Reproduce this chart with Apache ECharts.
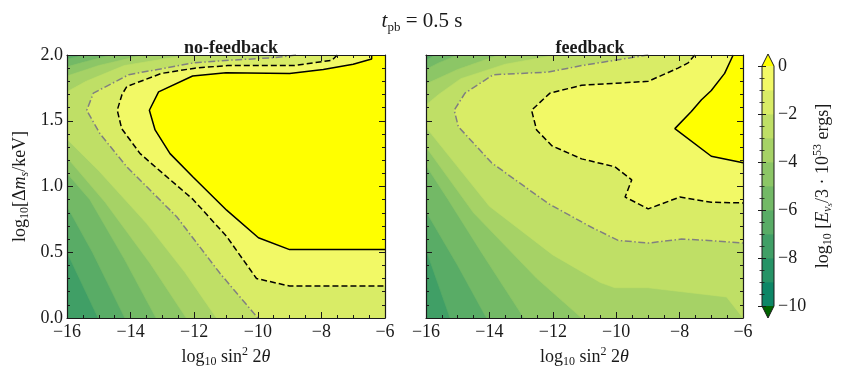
<!DOCTYPE html>
<html><head><meta charset="utf-8">
<script src="https://cdn.jsdelivr.net/npm/echarts@6/dist/echarts.min.js"></script>
<style>html,body{margin:0;padding:0;background:#fff}#c{width:844px;height:375px}</style>
</head><body><div id="c"></div>
<script>
// ---------- data ----------
const xRange = [-16, -6];
const yRange = [0, 2];
const cbRange = [-10, 0];
// contour levels (log10 E) whose iso-curves are given below
const levels = [-7, -6, -5, -4, -3, -2, -1, 0];
// colour of band [k, k+1] for k = -10 .. -1, then "over" (>0)
const bandLows = [-10, -9, -8, -7, -6, -5, -4, -3, -2, -1];
const bandColors = ['#0d8666', '#269366', '#409f66', '#59ac66', '#73b966', '#8cc666', '#a6d266', '#bfdf66', '#d9ec66', '#f2f966'];
const overColor = '#ffff00';
const underColor = '#006400';

// ---- panel "no-feedback": iso-curves [log10 sin^2 2theta, log10 dm] ----
const nfL0 = [[-6.42,2.0],[-6.42,1.97],[-7.0,1.93],[-7.94,1.89],[-9.0,1.86],[-11.0,1.865],[-12.05,1.84],[-13.12,1.72],[-13.41,1.58],[-13.23,1.43],[-12.76,1.25],[-12.03,1.07],[-10.98,0.82],[-9.98,0.61],[-9.0,0.52],[-6.0,0.52]];
const nfL1 = [[-7.5,2.0],[-7.67,1.96],[-8.85,1.92],[-10.95,1.92],[-11.98,1.90],[-13.03,1.86],[-14.12,1.76],[-14.27,1.70],[-14.42,1.58],[-14.28,1.44],[-13.70,1.25],[-13.18,1.14],[-12.03,0.90],[-10.98,0.62],[-10.04,0.30],[-9.0,0.243],[-6.0,0.243]];
const nfL2 = [[-8.8,2.0],[-9.45,1.98],[-10.92,1.96],[-12.02,1.94],[-14.06,1.85],[-15.17,1.71],[-15.38,1.58],[-14.96,1.40],[-14.12,1.15],[-12.55,0.77],[-11.19,0.34],[-10.0,0.0]];
const nfL3 = [[-12.2,2.0],[-14.2,1.92],[-15.4,1.80],[-16,1.72],[-16,1.36],[-15.0,1.12],[-13.5,0.72],[-12.3,0.35],[-11.3,0]];
const nfL4 = [[-13.6,2.0],[-15.0,1.92],[-16,1.84],[-16,1.22],[-14.8,0.88],[-13.4,0.42],[-12.25,0]];
const nfL5 = [[-14.6,2.0],[-15.4,1.95],[-16,1.91],[-16,1.1],[-15.28,0.90],[-14.2,0.45],[-13.2,0]];
const nfL6 = [[-15.4,2.0],[-16,1.97],[-16,0.85],[-15.2,0.5],[-14.18,0]];
const nfL7 = [[-16,0.5],[-15.02,0]];

// ---- panel "feedback" ----
const fbL0 = [[-6.31,2.0],[-6.58,1.86],[-7.0,1.73],[-7.31,1.66],[-7.63,1.57],[-8.15,1.44],[-7.0,1.23],[-6.0,1.18]];
const fbL1 = [[-7.52,2.0],[-7.73,1.94],[-8.05,1.90],[-8.99,1.80],[-10.04,1.785],[-11.09,1.77],[-12.09,1.71],[-12.67,1.58],[-12.51,1.43],[-12.03,1.31],[-11.09,1.21],[-10.04,1.15],[-9.51,1.05],[-9.72,0.92],[-8.99,0.83],[-7.99,0.92],[-7.0,0.88],[-6.0,0.875]];
const fbL2 = [[-8.99,2.0],[-10.04,1.96],[-11.09,1.92],[-12.14,1.87],[-13.88,1.85],[-14.77,1.71],[-15.11,1.58],[-14.98,1.455],[-13.93,1.18],[-12.14,0.87],[-10.78,0.69],[-9.94,0.59],[-8.99,0.57],[-7.94,0.60],[-7.1,0.59],[-6.0,0.57]];
const fbL3 = [[-11.9,2.0],[-13.5,1.93],[-14.9,1.82],[-15.6,1.70],[-16,1.62],[-16,1.45],[-14.0,0.85],[-12.0,0.48],[-10.5,0.27],[-10.04,0.23],[-8.99,0.23],[-6.52,0.16],[-6.0,0.0]];
const fbL4 = [[-13.7,2.0],[-15.0,1.89],[-16,1.78],[-16,1.30],[-14.5,0.80],[-12.5,0.30],[-11.09,0]];
const fbL5 = [[-15.0,2.0],[-15.6,1.94],[-16,1.89],[-16,1.16],[-15.3,0.90],[-14.2,0.48],[-12.91,0]];
const fbL6 = [[-15.7,2.0],[-16,1.96],[-16,0.81],[-15.0,0.40],[-14.09,0]];
const fbL7 = [[-16,0.52],[-15.24,0]];

// panel corners that close each region {value >= level} (data coordinates)
const TR = [-6, 2], BR = [-6, 0], TL = [-16, 2], BL = [-16, 0];
const nfClose = [[BR, TR, TL], [BR, TR], [BR, TR], [BR, TR], [BR, TR], [BR, TR], [TR], [TR]];
const fbClose = [[BR, TR, TL], [BR, TR], [BR, TR], [BR, TR], [TR], [TR], [TR], [TR]];
const nfCurves = [nfL7, nfL6, nfL5, nfL4, nfL3, nfL2, nfL1, nfL0];
const fbCurves = [fbL7, fbL6, fbL5, fbL4, fbL3, fbL2, fbL1, fbL0];

// ---------- chart ----------
const FONT = 'Liberation Serif';
const INK = '#1a1a1a';
function levelColor(lv) { // colour of region just above level lv
  if (lv >= 0) return overColor;
  return bandColors[bandLows.indexOf(lv)];
}
const rich = {
  t: {fontFamily: FONT, fontSize: 18, fontWeight: 'normal', color: INK, lineHeight: 22},
  i: {fontFamily: FONT, fontSize: 18, fontWeight: 'normal', fontStyle: 'italic', color: INK, lineHeight: 22},
  s: {fontFamily: FONT, fontSize: 12, fontWeight: 'normal', color: INK, verticalAlign: 'bottom', lineHeight: 14},
  si: {fontFamily: FONT, fontSize: 12, fontWeight: 'normal', fontStyle: 'italic', color: INK, verticalAlign: 'bottom', lineHeight: 14},
  ss: {fontFamily: FONT, fontSize: 9, fontWeight: 'normal', fontStyle: 'italic', color: INK, verticalAlign: 'bottom', lineHeight: 9},
  p: {fontFamily: FONT, fontSize: 12, fontWeight: 'normal', color: INK, verticalAlign: 'top', lineHeight: 14}
};
const fmtMinus = v => (v < 0 ? '\u2212' : '') + Math.abs(v);

function xAxes(gi) {
  const common = {type: 'value', gridIndex: gi, min: xRange[0], max: xRange[1], interval: 2, z: 10,
    axisLine: {show: true, onZero: false, lineStyle: {color: INK, width: 1.2}},
    axisTick: {show: true, inside: true, length: 6, lineStyle: {color: INK, width: 1}},
    minorTick: {show: true, splitNumber: 4, length: 3, lineStyle: {color: INK, width: 1}},
    splitLine: {show: false}, minorSplitLine: {show: false}};
  return [
    Object.assign({}, common, {position: 'bottom',
      axisLabel: {show: true, formatter: fmtMinus, fontFamily: FONT, fontSize: 18, color: INK, margin: 5, showMinLabel: true, showMaxLabel: true},
      name: '{t|log}{s|10}{t| sin}{p|2}{t| 2}{i|θ}', nameLocation: 'middle', nameGap: 26,
      nameTextStyle: {rich: rich}}),
    Object.assign({}, common, {position: 'top', axisLabel: {show: false}})
  ];
}
function yAxes(gi, labels) {
  const common = {type: 'value', gridIndex: gi, min: yRange[0], max: yRange[1], interval: 0.5, z: 10,
    axisLine: {show: true, onZero: false, lineStyle: {color: INK, width: 1.2}},
    axisTick: {show: true, inside: true, length: 6, lineStyle: {color: INK, width: 1}},
    minorTick: {show: true, splitNumber: 5, length: 3, lineStyle: {color: INK, width: 1}},
    splitLine: {show: false}, minorSplitLine: {show: false}};
  const left = Object.assign({}, common, {position: 'left',
    axisLabel: {show: labels, formatter: v => v.toFixed(1), fontFamily: FONT, fontSize: 18, color: INK, margin: 4, showMinLabel: true, showMaxLabel: true}});
  if (labels) Object.assign(left, {name: '{t|log}{s|10}{t|[Δ}{i|m}{si|s}{t|/keV]}', nameLocation: 'middle', nameRotate: 90, nameGap: 36, nameTextStyle: {rich: rich}});
  return [left, Object.assign({}, common, {position: 'right', axisLabel: {show: false}})];
}
function regionSeries(curves, closes, xi, yi) {
  const base = [[xRange[0], yRange[0]], [xRange[1], yRange[0]], [xRange[1], yRange[1]], [xRange[0], yRange[1]]];
  return {
    type: 'custom', xAxisIndex: xi, yAxisIndex: yi, clip: true, z: 2, silent: true,
    data: [-1].concat(levels.map((l, i) => i)),
    renderItem: function (params, api) {
      const k = params.dataIndex - 1;
      let pts, fill;
      if (k < 0) { pts = base; fill = levelColor(levels[0] - 1); }
      else { pts = curves[k].concat(closes[k]); fill = levelColor(levels[k]); }
      return {type: 'polygon', shape: {points: pts.map(p => api.coord(p))},
        style: {fill: fill, stroke: fill, lineWidth: 0.6}};
    }
  };
}
function lineSeries(data, xi, yi, color, type) {
  return {type: 'line', xAxisIndex: xi, yAxisIndex: yi, data: data, showSymbol: false, symbol: 'none',
    clip: true, z: 4, silent: true, lineStyle: {color: color, width: 1.5, type: type}};
}
const DASH = [6, 3];
const DASHDOT = [7, 2.5, 1.5, 2.5];

// colour bar
const cbSeries = {
  type: 'custom', xAxisIndex: 4, yAxisIndex: 4, clip: false, z: 2, silent: true,
  data: bandLows.map((b, i) => i).concat([10, 11, 12]),
  renderItem: function (params, api) {
    const i = params.dataIndex;
    if (i < bandLows.length) {
      const lo = bandLows[i];
      const a = api.coord([0, lo + 1]), b = api.coord([1, lo]);
      return {type: 'rect', shape: {x: a[0], y: a[1] - 0.4, width: b[0] - a[0], height: b[1] - a[1] + 0.8}, style: {fill: bandColors[i]}};
    }
    if (i === 10) return {type: 'polygon', shape: {points: [[0, cbRange[1]], [0.5, cbRange[1] + 0.5], [1, cbRange[1]]].map(p => api.coord(p))}, style: {fill: overColor}};
    if (i === 11) return {type: 'polygon', shape: {points: [[0, cbRange[0]], [0.5, cbRange[0] - 0.5], [1, cbRange[0]]].map(p => api.coord(p))}, style: {fill: underColor}};
    return {type: 'polygon', z2: 5, shape: {points: [[0, cbRange[1]], [0.5, cbRange[1] + 0.5], [1, cbRange[1]], [1, cbRange[0]], [0.5, cbRange[0] - 0.5], [0, cbRange[0]]].map(p => api.coord(p))},
      style: {fill: 'none', stroke: INK, lineWidth: 1}};
  }
};
const cbY = function (pos, labels) {
  const o = {type: 'value', gridIndex: 2, min: cbRange[0], max: cbRange[1], interval: 2, position: pos, z: 10,
    axisLine: {show: false},
    axisTick: {show: true, inside: true, length: 4, lineStyle: {color: INK, width: 1}},
    minorTick: {show: true, splitNumber: 4, length: 2.5, lineStyle: {color: INK, width: 0.8}},
    splitLine: {show: false}, minorSplitLine: {show: false},
    axisLabel: {show: labels, formatter: fmtMinus, fontFamily: FONT, fontSize: 18, color: INK, margin: 4, showMinLabel: true, showMaxLabel: true}};
  if (labels) Object.assign(o, {name: '{t|log}{s|10}{t| [}{i|E}{si|ν}{ss|s}{t|/3 · 10}{p|53}{t| ergs]}', nameLocation: 'middle', nameRotate: 90, nameGap: 38, nameTextStyle: {rich: rich}});
  return o;
};

const option = {
  animation: false,
  backgroundColor: '#ffffff',
  title: [
    {text: '{i|t}{s|pb}{t| = 0.5 s}', left: 'center', top: 3, textStyle: {fontWeight: 'normal', rich: {
      i: {fontFamily: FONT, fontSize: 21, fontWeight: 'normal', fontStyle: 'italic', color: INK, lineHeight: 26},
      t: {fontFamily: FONT, fontSize: 21, fontWeight: 'normal', color: INK, lineHeight: 26},
      s: {fontFamily: FONT, fontSize: 13, fontWeight: 'normal', color: INK, verticalAlign: 'bottom', lineHeight: 16}}}},
    {text: 'no-feedback', left: 226, top: 34, textAlign: 'center', textStyle: {fontFamily: FONT, fontWeight: 'bold', fontSize: 18, color: INK}},
    {text: 'feedback', left: 585, top: 34, textAlign: 'center', textStyle: {fontFamily: FONT, fontWeight: 'bold', fontSize: 18, color: INK}}
  ],
  grid: [
    {left: 67, top: 55, width: 318, height: 263, outerBoundsMode: 'none'},
    {left: 426, top: 55, width: 317, height: 263, outerBoundsMode: 'none'},
    {left: 762, top: 66, width: 12, height: 240, outerBoundsMode: 'none'}
  ],
  xAxis: xAxes(0).concat(xAxes(1)).concat([{type: 'value', gridIndex: 2, min: 0, max: 1, show: false}]),
  yAxis: yAxes(0, true).concat(yAxes(1, false)).concat([cbY('right', true), cbY('left', false)]),
  series: [
    regionSeries(nfCurves, nfClose, 0, 0),
    regionSeries(fbCurves, fbClose, 2, 2),
    lineSeries(nfL2, 0, 0, '#808080', DASHDOT),
    lineSeries(nfL1, 0, 0, '#000000', DASH),
    lineSeries(nfL0, 0, 0, '#000000', 'solid'),
    lineSeries(fbL2, 2, 2, '#808080', DASHDOT),
    lineSeries(fbL1, 2, 2, '#000000', DASH),
    lineSeries(fbL0, 2, 2, '#000000', 'solid'),
    cbSeries
  ]
};
const chart = echarts.init(document.getElementById('c'), null, {renderer: 'canvas'});
chart.setOption(option);
</script></body></html>
